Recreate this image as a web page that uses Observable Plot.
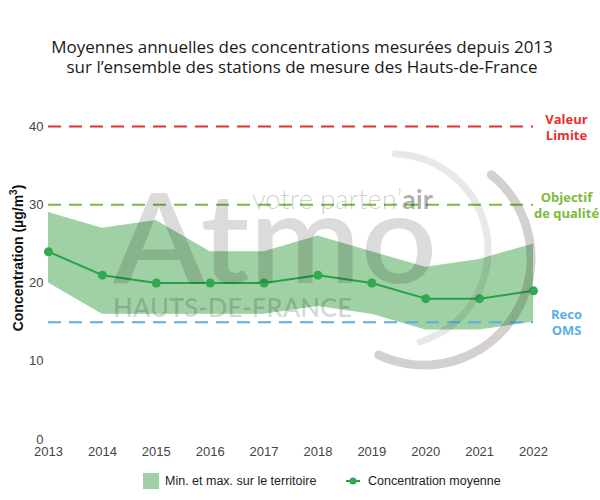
<!DOCTYPE html>
<html>
<head>
<meta charset="utf-8">
<script src="https://cdn.jsdelivr.net/npm/d3@7"></script>
<script src="https://cdn.jsdelivr.net/npm/@observablehq/plot@0.6"></script>
<style>
  html, body { margin: 0; padding: 0; background: #fff; }
  #wrap { position: relative; width: 600px; height: 500px; overflow: hidden; font-family: "Liberation Sans", Arial, sans-serif; }
  #title { position: absolute; top: 37px; left: 0; width: 604px; text-align: center; font-family: "Open Sans", "Noto Sans", sans-serif; font-size: 17px; line-height: 20px; color: #1a1a1a; }
  #chart { position: absolute; top: 100px; left: 0; }
  #ylabel { position: absolute; left: 17px; top: 258px; transform: translate(-50%, -50%) rotate(-90deg); white-space: nowrap; font-weight: bold; font-size: 14px; color: #111; }
  #legend { position: absolute; top: 472px; left: 0; width: 600px; font-size: 12.5px; color: #222; }
  .lg { position: absolute; display: flex; align-items: center; }
  #wm { position: absolute; top: 0; left: 0; pointer-events: none; }
</style>
</head>
<body>
<div id="wrap">
  <div id="title">Moyennes annuelles des concentrations mesurées depuis 2013<br>sur l’ensemble des stations de mesure des Hauts-de-France</div>
  <div id="chart"></div>
  <div id="ylabel">Concentration (µg/m<sup style="font-size:10px">3</sup>)</div>
  <div id="legend">
    <div class="lg" style="left:143px;top:1px;">
      <span style="display:inline-block;width:16px;height:16px;background:#9fd1a5;"></span>
      <span style="margin-left:6px;">Min. et max. sur le territoire</span>
    </div>
    <div class="lg" style="left:346px;top:1px;height:16px;">
      <svg width="14" height="16"><line x1="0" x2="14" y1="8" y2="8" stroke="#27a046" stroke-width="2"/><circle cx="7" cy="8" r="3.5" fill="#33a852"/></svg>
      <span style="margin-left:8px;">Concentration moyenne</span>
    </div>
  </div>
  <svg id="wm" width="600" height="500">
    <text x="113" y="283" font-family="Lato, 'Open Sans', sans-serif" font-weight="600" font-size="126" fill="#000" fill-opacity="0.14" textLength="324" lengthAdjust="spacingAndGlyphs">Atmo</text>
    <text x="252" y="209" font-family="Lato, 'Open Sans', sans-serif" font-weight="300" font-size="27" fill="#000" fill-opacity="0.2" textLength="181" lengthAdjust="spacingAndGlyphs">votre parten’<tspan font-weight="700" fill-opacity="0.33">air</tspan></text>
    <text x="113" y="317" font-family="Lato, 'Open Sans', sans-serif" font-weight="600" font-size="27" fill="#000" fill-opacity="0.16" textLength="239" lengthAdjust="spacingAndGlyphs">HAUTS-DE-FRANCE</text>
    <path id="arc1" fill="none" stroke="#000" stroke-opacity="0.09" stroke-width="7" stroke-linecap="round"/>
    <path id="arc2" fill="none" stroke="#3a2a2a" stroke-opacity="0.22" stroke-width="9" stroke-linecap="round"/>
  </svg>
</div>
<script>
// ---- data ----
const years = [2013, 2014, 2015, 2016, 2017, 2018, 2019, 2020, 2021, 2022];
const maxValues = [29, 27, 28, 24, 24, 26, 24, 22, 23, 25];
const minValues = [20, 16, 16, 16, 16, 17, 16, 14, 14, 15];
const meanValues = [24, 21, 20, 20, 20, 21, 20, 18, 18, 19];
const yTicks = [0, 10, 20, 30, 40];
const thresholdValues = [40, 30, 15];
const thresholdLabels = ["Valeur\nLimite", "Objectif\nde qualité", "Reco\nOMS"];
const thresholdColors = ["#e8302e", "#7cbb3a", "#5aafe6"];

const rows = years.map((y, i) => ({year: y, min: minValues[i], max: maxValues[i], mean: meanValues[i]}));
const thresholds = thresholdValues.map((v, i) => ({value: v, label: thresholdLabels[i], color: thresholdColors[i]}));

const chart = Plot.plot({
  width: 600,
  height: 360,
  marginTop: 26,
  marginBottom: 21,
  marginLeft: 48,
  marginRight: 67,
  style: {fontFamily: "'Liberation Sans', Arial, sans-serif", fontSize: "13px", color: "#444", background: "transparent"},
  x: {domain: [2013, 2022], ticks: years, tickFormat: d => String(d), tickSize: 0, tickPadding: 7, label: null},
  y: {domain: [0, 40], ticks: yTicks, tickSize: 0, tickPadding: 5, label: null},
  marks: [
    Plot.areaY(rows, {x: "year", y1: "min", y2: "max", fill: "#9fd1a5", fillOpacity: 1}),
    Plot.ruleY(thresholds, {x1: years[0], x2: years[years.length - 1], y: "value", stroke: "color", strokeWidth: 2, strokeDasharray: "13,8"}),
    Plot.line(rows, {x: "year", y: "mean", stroke: "#27a046", strokeWidth: 2}),
    Plot.dot(rows, {x: "year", y: "mean", r: 4.5, fill: "#33a852"}),
    Plot.text(thresholds, {x: years[years.length - 1], y: "value", text: "label", fill: "color", dx: 33, textAnchor: "middle", lineAnchor: "middle", lineHeight: 1.25, fontWeight: "bold", fontSize: 13, fontFamily: "'Open Sans', 'Noto Sans', sans-serif"})
  ]
});
document.getElementById("chart").appendChild(chart);

// watermark arcs (decorative logo)
function arcPath(cx, cy, r, a0, a1) {
  const rad = a => a * Math.PI / 180;
  const x0 = cx + r * Math.cos(rad(a0)), y0 = cy + r * Math.sin(rad(a0));
  const x1 = cx + r * Math.cos(rad(a1)), y1 = cy + r * Math.sin(rad(a1));
  const large = (a1 - a0) > 180 ? 1 : 0;
  return `M${x0},${y0} A${r},${r} 0 ${large} 1 ${x1},${y1}`;
}
document.getElementById("arc1").setAttribute("d", arcPath(392, 250, 96, -88, 73));
document.getElementById("arc2").setAttribute("d", arcPath(424, 258, 107, -51, 115));
</script>
</body>
</html>
